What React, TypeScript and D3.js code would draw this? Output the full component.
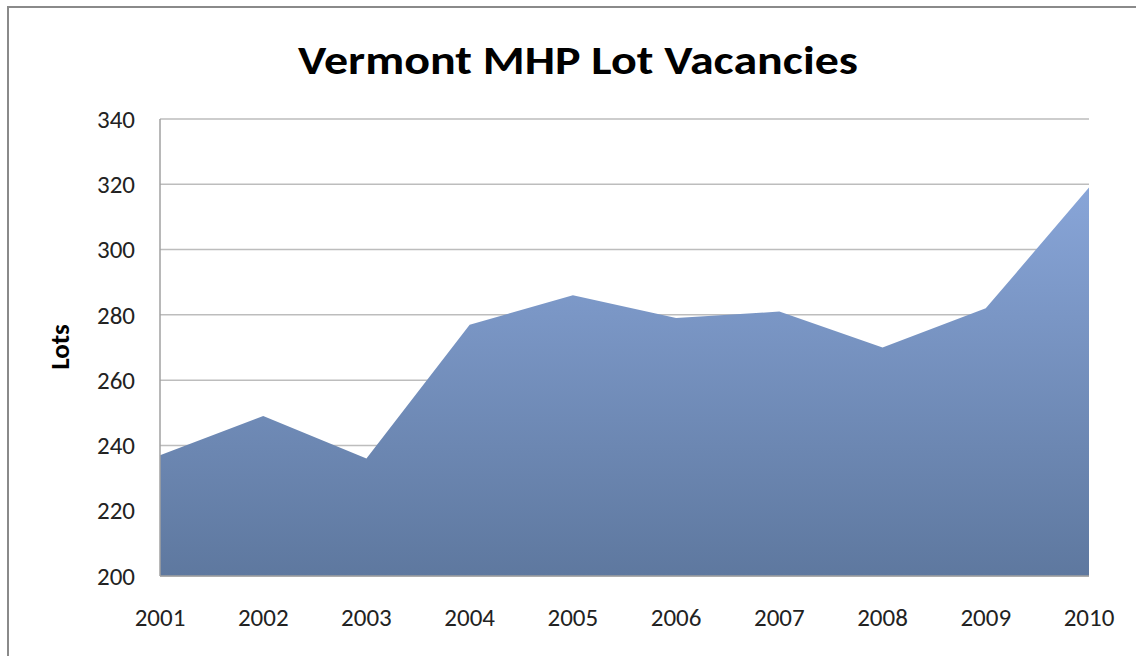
import React from 'react';
import * as d3 from 'd3';

const years = ['2001', '2002', '2003', '2004', '2005', '2006', '2007', '2008', '2009', '2010'];
const vacancies = [237, 249, 236, 277, 286, 279, 281, 270, 282, 319];
const yTicks = [200, 220, 240, 260, 280, 300, 320, 340];

const App = () => {
  const width = 1136;
  const height = 656;
  const left = 160;
  const right = 1089;
  const top = 119;
  const bottom = 576;

  const xScale = d3.scalePoint<string>()
    .domain(years)
    .range([left, right]);

  const yScale = d3.scaleLinear()
    .domain([200, 340])
    .range([bottom, top]);

  const area = d3.area<number>()
    .x((_, i) => xScale(years[i]) as number)
    .y0(yScale(200))
    .y1(d => yScale(d));

  const font = 'Calibri, Carlito, "Open Sans", sans-serif';

  return (
    <svg width={width} height={height} style={{ position: 'absolute', left: 0, top: 0 }}>
      <defs>
        <linearGradient id="areaFill" x1="0" y1="0" x2="0" y2="1">
          <stop offset="0%" stopColor="#88a5d8" />
          <stop offset="100%" stopColor="#5e789f" />
        </linearGradient>
      </defs>
      <rect x={0} y={0} width={width} height={height} fill="#fff" />
      <rect x={8} y={7} width={width} height={height} fill="none" stroke="#8a8a8a" strokeWidth={2} />

      <text
        x={578}
        y={74}
        textAnchor="middle"
        fontFamily={font}
        fontWeight="bold"
        fontSize={41}
        textLength={560}
        lengthAdjust="spacingAndGlyphs"
        fill="#000"
      >
        Vermont MHP Lot Vacancies
      </text>

      {yTicks.map(t => (
        <g key={t}>
          <line x1={left} x2={right} y1={yScale(t)} y2={yScale(t)} stroke="#bdbdbd" strokeWidth={1.5} />
          <text
            x={135}
            y={yScale(t)}
            dy="0.35em"
            textAnchor="end"
            fontFamily={font}
            fontSize={25}
            fill="#222"
          >
            {t}
          </text>
        </g>
      ))}

      <path d={area(vacancies) || ''} fill="url(#areaFill)" />

      <line x1={left} x2={left} y1={top} y2={bottom} stroke="#a0a0a0" strokeWidth={1.5} />
      <line x1={left} x2={right} y1={bottom} y2={bottom} stroke="#a0a0a0" strokeWidth={1.5} />

      {years.map(y => (
        <text
          key={y}
          x={xScale(y)}
          y={626}
          textAnchor="middle"
          fontFamily={font}
          fontSize={25}
          fill="#222"
        >
          {y}
        </text>
      ))}

      <text
        transform="translate(69,347) rotate(-90)"
        textAnchor="middle"
        fontFamily={font}
        fontWeight="bold"
        fontSize={27}
        fill="#000"
      >
        Lots
      </text>
    </svg>
  );
};

export default App;
